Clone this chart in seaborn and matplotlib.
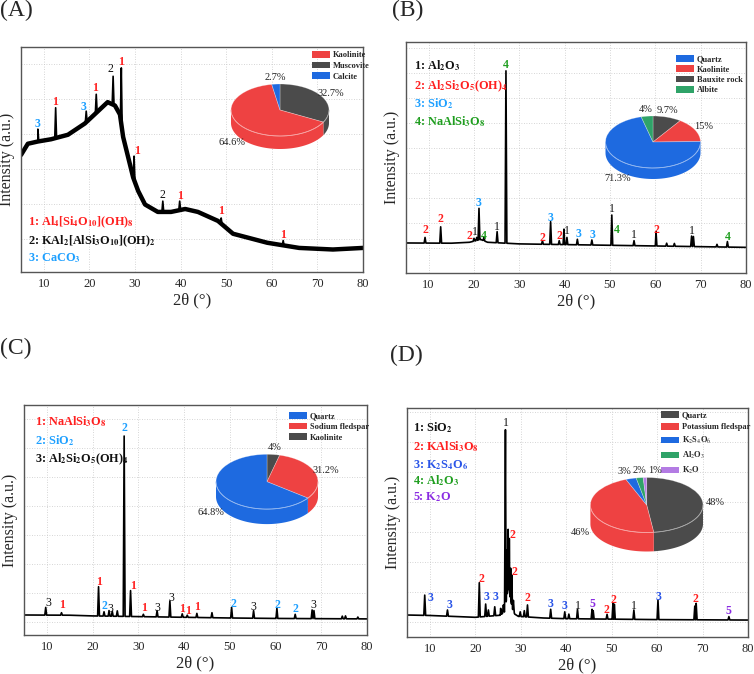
import numpy as np
import matplotlib.pyplot as plt
import seaborn as sns
from matplotlib.patches import Patch

sns.set_theme(style='white')
plt.rcParams['font.family'] = ['Liberation Serif', 'DejaVu Serif']
plt.rcParams['mathtext.fontset'] = 'stix'

# text colours of the phase keys
RED, BLACK, CYAN, GREEN, BLUE, PURPLE = '#ff1f1f', '#111111', '#1ea0ff', '#1f9e1f', '#2a55e8', '#8a2be2'
# pie colours
P_RED, P_GRAY, P_BLUE, P_GREEN, P_PURPLE = '#ee4242', '#4b4b4b', '#1e6ae0', '#2fa368', '#b37be3'

# ---------------- (A) ----------------
a_bg_x = [5, 6.5, 8.7, 11.6, 15.3, 19, 21.9, 24, 25.6, 26.7, 27.4, 28.5, 29.6, 30.7, 32.2, 35, 37.9,
          41, 43.8, 48.2, 51.5, 59, 66, 73.4, 80]
a_bg_y = [52, 57, 58, 59, 61, 66, 71.5, 75.5, 74, 70, 60, 51, 42, 36, 30, 26.7, 26.7,
          28, 26.7, 22.7, 17, 13, 10.7, 10, 10.7]
a_pk_x = [8.7, 12.6, 19.3, 21.5, 25.2, 27.0, 29.8, 36.1, 39.8, 48.9, 62.5]
a_pk_y = [63.5, 73, 71.5, 79, 87, 90.7, 51.5, 31.5, 31.5, 24, 14]
a_lab_x = [8.6, 12.5, 18.7, 21.3, 24.7, 27.0, 30.4, 36.1, 39.8, 48.8, 62.5]
a_lab_y = [65.8, 75.4, 73.2, 81.6, 90.2, 93.2, 53.9, 34.4, 33.9, 27.1, 16.4]
a_lab_n = [3, 1, 3, 1, 2, 1, 1, 2, 1, 1, 1]
a_phases = [r'1: Al$_\mathbf{4}$[Si$_\mathbf{4}$O$_\mathbf{10}$](OH)$_\mathbf{8}$',
            r'2: KAl$_\mathbf{2}$[AlSi$_\mathbf{3}$O$_\mathbf{10}$](OH)$_\mathbf{2}$',
            r'3: CaCO$_\mathbf{3}$']
a_ph_col = [RED, BLACK, CYAN]
a_pie_names = ['Kaolinite', 'Muscovite', 'Calcite']
a_pie_pct = [64.6, 32.7, 2.7]
a_pie_col = [P_RED, P_GRAY, P_BLUE]
a_pie_order = [1, 0, 2]

# ---------------- (B) ----------------
b_bg_x = [5, 15, 19, 21.5, 23, 30, 40, 50, 60, 70, 80]
b_bg_y = [13.0, 12.9, 13.3, 14.5, 13.3, 12.6, 12.3, 12.0, 11.7, 11.4, 11.1]
b_pk_x = [9.2, 12.65, 20.0, 20.6, 21.1, 22.2, 25.1, 27.05, 35.1, 36.9, 38.8, 39.85, 40.5, 42.8, 46.0,
          50.4, 55.3, 60.15, 62.5, 64.2, 68.0, 68.4, 73.6, 75.9]
b_pk_y = [15.4, 20, 15, 15.4, 28, 15.4, 17.9, 87.5, 14, 22.2, 14, 19, 15.4, 14.6, 14.3,
          25.1, 14, 17.9, 12.9, 12.8, 16, 15.8, 12.4, 13.6]
b_lab_x = [9.2, 12.65, 18.9, 20.2, 21.1, 22.2, 25.1, 27.05, 35.1, 36.9, 38.8, 40.6, 43.1, 46.2,
           50.4, 51.5, 55.3, 60.15, 68.0, 75.9]
b_lab_y = [18.6, 23.2, 16, 17.9, 30.2, 16, 20, 90, 15, 23.7, 16, 18.3, 16.7, 16.3,
           27.7, 18.6, 16.5, 18.6, 18.2, 15.4]
b_lab_n = [2, 2, 2, 1, 3, 4, 1, 4, 2, 3, 2, 1, 3, 3, 1, 4, 1, 2, 1, 4]
b_phases = [r'1: Al$_\mathbf{2}$O$_\mathbf{3}$',
            r'2: Al$_\mathbf{2}$Si$_\mathbf{2}$O$_\mathbf{5}$(OH)$_\mathbf{4}$',
            r'3: SiO$_\mathbf{2}$',
            r'4: NaAlSi$_\mathbf{3}$O$_\mathbf{8}$']
b_ph_col = [BLACK, RED, CYAN, GREEN]
b_pie_names = ['Quartz', 'Kaolinite', 'Bauxite rock', 'Albite']
b_pie_pct = [71.3, 15, 9.7, 4]
b_pie_col = [P_BLUE, P_RED, P_GRAY, P_GREEN]
b_pie_order = [2, 1, 0, 3]

# ---------------- (C) ----------------
c_bg_x = [5, 15, 20, 30, 40, 50, 60, 70, 80]
c_bg_y = [8.7, 8.6, 8.3, 8.0, 7.7, 7.4, 7.2, 7.1, 7.0]
c_pk_x = [9.75, 13.2, 21.3, 22.5, 23.6, 24.3, 25.4, 26.9, 28.3, 31.1, 34.1, 36.9, 39.6, 40.7, 42.8,
          46.1, 50.4, 55.2, 60.3, 64.3, 68.0, 68.4, 74.6, 75.3, 78.0]
c_pk_y = [12, 9.7, 21, 10.1, 10.6, 10.3, 10.5, 86.5, 19.3, 9, 10.6, 14.8, 9.2, 8.6, 9.4,
          9.7, 12, 10.6, 11.6, 9, 10.9, 10.6, 8.2, 8.3, 7.8]
c_lab_x = [10.3, 13.4, 21.3, 22.5, 23.9, 26.9, 28.75, 31.2, 34.1, 37.3, 39.5, 40.9, 42.9, 50.8,
           55.2, 60.4, 64.4, 68.2]
c_lab_y = [13.8, 13, 23.2, 12.6, 11.2, 90, 21.3, 11.6, 11.6, 16, 11.2, 10.6, 12.2, 13.3,
           12.2, 12.9, 11.3, 12.9]
c_lab_n = [3, 1, 1, 2, 3, 2, 1, 1, 3, 3, 1, 1, 1, 2, 3, 2, 2, 3]
c_phases = [r'1: NaAlSi$_\mathbf{3}$O$_\mathbf{8}$',
            r'2: SiO$_\mathbf{2}$',
            r'3: Al$_\mathbf{2}$Si$_\mathbf{2}$O$_\mathbf{5}$(OH)$_\mathbf{4}$']
c_ph_col = [RED, CYAN, BLACK]
c_pie_names = ['Quartz', 'Sodium fledspar', 'Kaolinite']
c_pie_pct = [64.8, 31.2, 4]
c_pie_col = [P_BLUE, P_RED, P_GRAY]
c_pie_order = [2, 1, 0]

# ---------------- (D) ----------------
d_bg_x = [5, 10, 15, 20, 25.5, 26.45, 26.85, 27.12, 27.37, 27.65, 27.93, 28.25, 28.7, 29.5,
          35, 40, 50, 60, 70, 80]
d_bg_y = [9.6, 9.4, 9.0, 8.6, 9.5, 11, 16, 20, 22, 18, 15, 12, 10, 9.0,
          8.3, 8.0, 7.8, 7.6, 7.5, 7.4]
d_pk_x = [8.9, 13.9, 20.9, 22.3, 22.9, 24.3, 25.6, 26.2, 26.65, 27.0, 27.25, 27.5, 27.8, 28.05, 28.4,
          29.9, 30.8, 31.5, 36.6, 39.7, 40.6, 42.5, 45.7, 45.95, 49.0, 50.3, 50.6, 54.9, 60.2,
          68.3, 68.6, 75.8]
d_pk_y = [18.3, 11.8, 23.7, 14.4, 11.8, 13.2, 12.5, 14, 90.5, 38, 47, 43, 30, 27, 16,
          11, 11.5, 14, 12.1, 11, 10, 12.1, 12.1, 11.5, 9.9, 14.7, 14.3, 11.8, 16.2,
          13.5, 14.7, 8.9]
d_lab_x = [10.06, 14.4, 21.4, 22.4, 24.5, 26.8, 28.2, 28.7, 31.5, 36.6, 39.6, 42.5, 45.8, 48.8,
           50.4, 54.9, 60.3, 68.5, 75.8]
d_lab_y = [17.2, 14, 25.2, 17.4, 17.4, 93.5, 44.5, 28.5, 16.9, 14.4, 13.5, 13.5, 14.3, 11.8,
           16.2, 13.5, 17.4, 16.7, 11.5]
d_lab_n = [3, 3, 2, 3, 3, 1, 2, 2, 2, 3, 3, 1, 5, 2, 2, 1, 3, 2, 5]
d_phases = [r'1: SiO$_\mathbf{2}$',
            r'2: KAlSi$_\mathbf{3}$O$_\mathbf{8}$',
            r'3: K$_\mathbf{2}$S$_\mathbf{4}$O$_\mathbf{6}$',
            r'4: Al$_\mathbf{2}$O$_\mathbf{3}$',
            r'5: K$_\mathbf{2}$O']
d_ph_col = [BLACK, RED, BLUE, GREEN, PURPLE]
d_pie_names = ['Quartz', 'Potassium fledspar', r'K$_2$S$_4$O$_6$', r'Al$_2$O$_3$', r'K$_2$O']
d_pie_pct = [48, 46, 3, 2, 1]
d_pie_col = [P_GRAY, P_RED, P_BLUE, P_GREEN, P_PURPLE]
d_pie_order = [0, 1, 2, 3, 4]

W, H = 754, 674
fig = plt.figure(figsize=(W / 100, H / 100), dpi=100, facecolor='white')


def frac(l, t, r, b):
    return [l / W, 1 - b / H, (r - l) / W, (b - t) / H]


def build_trace(bx, by, px, py, w=0.2):
    xs, ys = list(bx), list(by)
    for p, h in zip(px, py):
        xs += [p - w, p, p + w]
        ys += [np.interp(p - w, bx, by), h, np.interp(p + w, bx, by)]
    order = np.argsort(xs, kind='stable')
    return np.asarray(xs)[order], np.asarray(ys)[order]


def light(c):
    return tuple(0.5 * v + 0.5 for v in c[:3])


def xrd_panel(box, bx, by, px, py, lx, ly, ln, phases, ph_col, ph_x, ph_y, ygrid, thick=False):
    ax = fig.add_axes(frac(*box))
    xs, ys = build_trace(bx, by, px, py)
    if thick:
        sns.lineplot(x=bx, y=by, ax=ax, color='black', lw=3.2, sort=False, estimator=None)
    sns.lineplot(x=xs, y=ys, ax=ax, color='black', lw=1.2, sort=False, estimator=None)
    ax.set_xlim(5, 80)
    ax.set_ylim(0, 100)
    ax.set_xticks(range(10, 81, 10))
    ax.set_yticks(ygrid)
    ax.set_yticklabels([])
    ax.tick_params(axis='x', direction='in', length=3, labelsize=9, pad=4, color='#555555')
    ax.tick_params(axis='y', length=0)
    ax.grid(True, ls=(0, (1, 2)), lw=0.6, color='#c8c8c8')
    ax.set_axisbelow(True)
    for s in ax.spines.values():
        s.set_color('#555555')
        s.set_linewidth(1)
    ax.set_xlabel('2θ (°)', fontsize=12, labelpad=2)
    ax.set_ylabel('Intensity (a.u.)', fontsize=11.5, labelpad=0.5)
    for x, y, n in zip(lx, ly, ln):
        col = ph_col[n - 1]
        ax.text(x, y, str(n), color=col, fontsize=8.5, ha='center', va='center',
                fontweight='normal' if col == BLACK else 'bold')
    for s, c, y in zip(phases, ph_col, ph_y):
        fig.text(ph_x / W, 1 - (y + 4) / H, s, color=c, fontsize=8.8, fontweight='bold', va='baseline')
    return ax


def pie3d(ax_main, cx, cy, rx, ry, depth, names, pct, colors, order, leg_xy, leg_sp, nudge=None):
    l, r = cx - 1.1 * rx, cx + 1.1 * rx
    t, b = cy - 1.1 * ry, cy + ry + depth + 0.1 * ry
    ax = fig.add_axes(frac(l, t, r, b))
    d = depth / ry
    vals = [pct[i] for i in order]
    cols = [colors[i] for i in order]
    nudge = nudge or [0] * len(vals)
    wedges, _ = ax.pie(vals, colors=cols, startangle=90, counterclock=False,
                       wedgeprops=dict(lw=0.5, edgecolor=(1, 1, 1, 0.35)))
    ax.set_aspect('auto')
    ax.set_xlim(-1.1, 1.1)
    ax.set_ylim(-(1 + d + 0.1), 1.1)
    ax.axis('off')
    for wdg, v, dx in zip(wedges, vals, nudge):
        fc = wdg.get_facecolor()
        for k in range(-2, 3):
            a0 = max(wdg.theta1, 180 + 360 * k)
            a1 = min(wdg.theta2, 360 + 360 * k)
            if a1 > a0:
                tt = np.radians(np.linspace(a0, a1, 60))
                ax.fill(np.r_[np.cos(tt), np.cos(tt[::-1])], np.r_[np.sin(tt), np.sin(tt[::-1]) - d],
                        color=fc, lw=0, zorder=0)
                ax.plot(np.cos(tt), np.sin(tt), color=light(fc), lw=0.6, zorder=5)
        mid = np.radians((wdg.theta1 + wdg.theta2) / 2)
        s = np.sin(mid)
        ax.text(1.22 * np.cos(mid) + dx / rx, 1.25 * s - (d if s < 0 else 0), f'{v:g}%',
                ha='center', va='center', fontsize=7.5, color='#222222')
    handles = [Patch(facecolor=c, edgecolor='none') for c in colors]
    ax_main.legend(handles, names, loc='upper left', bbox_to_anchor=(leg_xy[0] / W, 1 - leg_xy[1] / H),
                   bbox_transform=fig.transFigure, frameon=False, borderpad=0, borderaxespad=0,
                   handlelength=2.2, handleheight=0.85, handletextpad=0.3, labelspacing=leg_sp,
                   prop=dict(family='Liberation Serif', weight='bold', size=6))


axA = xrd_panel((21, 47, 363, 272), a_bg_x, a_bg_y, a_pk_x, a_pk_y, a_lab_x, a_lab_y, a_lab_n,
                a_phases, a_ph_col, 27.7, [221.7, 240, 257.7], np.arange(14.7, 100, 15.56), thick=True)
pie3d(axA, 280, 110, 49, 26, 13, a_pie_names, a_pie_pct, a_pie_col, a_pie_order, (312, 51), 0.3)

axB = xrd_panel((406, 42, 746, 273), b_bg_x, b_bg_y, b_pk_x, b_pk_y, b_lab_x, b_lab_y, b_lab_n,
                b_phases, b_ph_col, 413.7, [65.7, 85, 103.3, 121.7], np.arange(10.8, 100, 10.8))
pie3d(axB, 653, 142, 47.5, 26, 11, b_pie_names, b_pie_pct, b_pie_col, b_pie_order, (676, 55), 0.25,
      nudge=[-3, 0, 0, 0])

axC = xrd_panel((24, 405, 367, 635), c_bg_x, c_bg_y, c_pk_x, c_pk_y, c_lab_x, c_lab_y, c_lab_n,
                c_phases, c_ph_col, 35, [421.7, 440, 458.3], np.arange(5.8, 100, 12.6))
pie3d(axC, 267, 481.7, 51, 27.4, 15, c_pie_names, c_pie_pct, c_pie_col, c_pie_order, (289, 412), 0.3)

axD = xrd_panel((407, 408, 748, 637), d_bg_x, d_bg_y, d_pk_x, d_pk_y, d_lab_x, d_lab_y, d_lab_n,
                d_phases, d_ph_col, 413, [427.7, 446.7, 464, 480, 496.7], np.arange(6.6, 100, 13.1))
pie3d(axD, 646.7, 505, 56.3, 27.5, 19, d_pie_names, d_pie_pct, d_pie_col, d_pie_order, (661, 411), 0.45,
      nudge=[0, 0, -3, 1, 10])

for s, x, y in [('(A)', 0, 0), ('(B)', 392, 0), ('(C)', 0, 338), ('(D)', 390, 345)]:
    fig.text(x / W, 1 - y / H, s, fontsize=17, ha='left', va='top')

fig.savefig('out.png', dpi=100, facecolor='white')
